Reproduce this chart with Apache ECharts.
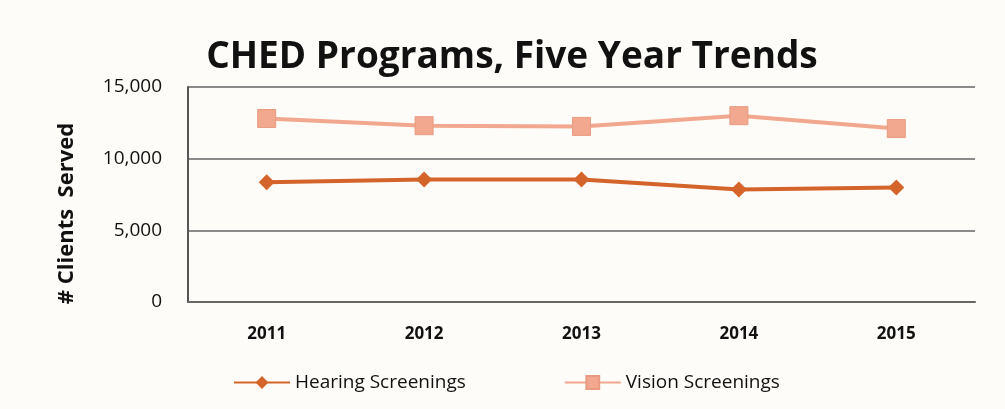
<!DOCTYPE html>
<html>
<head>
<meta charset="utf-8">
<script src="https://cdn.jsdelivr.net/npm/echarts@6/dist/echarts.min.js"></script>
<style>
    html, body { margin: 0; padding: 0; background: #fdfcf8; }
    #chart { width: 1005px; height: 409px; }
</style>
</head>
<body>
<div id="chart"></div>
<script>
const years = ["2011", "2012", "2013", "2014", "2015"];
const hearing = [8350, 8540, 8540, 7850, 7990];
const vision = [12800, 12300, 12250, 13000, 12100];
const yTicks = [0, 5000, 10000, 15000];

const font = "'Open Sans', 'Liberation Sans', sans-serif";
const chart = echarts.init(document.getElementById("chart"));

chart.setOption({
    backgroundColor: "#fdfcf8",
    animation: false,
    title: {
        text: "CHED Programs, Five Year Trends",
        left: 507,
        textAlign: "center",
        top: 34,
        textStyle: { fontFamily: font, fontSize: 37, fontWeight: "bold", color: "#111" }
    },
    legend: {
        bottom: 12,
        left: 228,
        itemGap: 98,
        itemWidth: 56,
        itemHeight: 16,
        textStyle: { fontFamily: font, fontSize: 19, color: "#111" },
        data: ["Hearing Screenings", "Vision Screenings"]
    },
    grid: { left: 188, right: 30, top: 87, bottom: 107 },
    xAxis: {
        type: "category",
        data: years,
        boundaryGap: true,
        axisLine: { show: true, lineStyle: { color: "#666", width: 2 } },
        axisTick: { show: false },
        axisLabel: { fontFamily: font, fontSize: 17, fontWeight: "bold", color: "#111", margin: 24 }
    },
    yAxis: {
        type: "value",
        min: 0,
        max: 15000,
        interval: 5000,
        name: "# Clients  Served",
        nameLocation: "middle",
        nameGap: 110,
        nameTextStyle: { fontFamily: font, fontSize: 22, fontWeight: "bold", color: "#111", padding: [0, 38, 0, 0] },
        axisLine: { show: true, lineStyle: { color: "#555", width: 2 } },
        axisTick: { show: false },
        axisLabel: {
            fontFamily: font, fontSize: 19, color: "#111", margin: 26,
            formatter: v => yTicks.includes(v) ? v.toLocaleString("en-US") : ""
        },
        splitLine: { lineStyle: { color: "#8a8a8a", width: 2 } }
    },
    series: [
        {
            name: "Hearing Screenings",
            type: "line",
            data: hearing,
            symbol: "diamond",
            symbolSize: 16,
            color: "#d5642a",
            lineStyle: { width: 4, color: "#d5642a" },
            itemStyle: { color: "#d5642a" }
        },
        {
            name: "Vision Screenings",
            type: "line",
            data: vision,
            symbol: "rect",
            symbolSize: 18,
            color: "#f2a88e",
            lineStyle: { width: 4, color: "#f2a88e" },
            itemStyle: { color: "#f2a88e", borderColor: "#e99a80", borderWidth: 1 }
        }
    ]
});
</script>
</body>
</html>
